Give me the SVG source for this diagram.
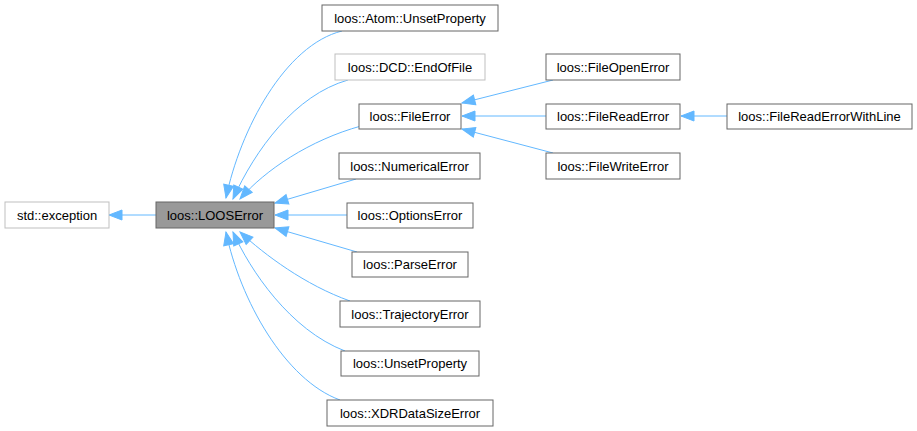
<svg xmlns="http://www.w3.org/2000/svg" width="917" height="431" viewBox="0 0 917 431">
<style>
.n rect{fill:#ffffff;stroke:#666666;stroke-width:1}
.n.g rect{stroke:#bfbfbf}
.n.h rect{fill:#999999;stroke:#666666}
.n text{font-family:"Liberation Sans",Arial,sans-serif;font-size:13px;fill:#000000;text-anchor:middle}
.e path{fill:none;stroke:#63b8ff;stroke-width:1;marker-end:url(#a)}
</style>
<defs>
<marker id="a" markerUnits="userSpaceOnUse" markerWidth="16" markerHeight="12" viewBox="-14 -6 16 12" refX="0" refY="0" orient="auto">
<path d="M-13,-5 L0,0 L-13,5 z" fill="#63b8ff" stroke="#63b8ff" stroke-width="1"/>
</marker>
</defs>
<rect width="917" height="431" fill="#ffffff"/>
<g id="connectors" class="e">
<path d="M156,215 L109,215"/>
<path d="M342,31 C285,45 240,130 226,198"/>
<path d="M348,80 C295,95 255,150 233,199"/>
<path d="M361,126 C310,140 265,170 240,199"/>
<path d="M356,179 L275,203"/>
<path d="M347,215 L275,215"/>
<path d="M357,252 L275,228"/>
<path d="M350,301 C305,285 265,255 240,232"/>
<path d="M345,351 C290,330 250,270 233,232"/>
<path d="M340,400 C285,380 240,300 226,232"/>
<path d="M553,80 L462,103"/>
<path d="M546,116 L462,116"/>
<path d="M553,153 L462,129"/>
<path d="M727,116 L681,116"/>
</g>
<g id="std_exception" class="n g"><rect x="5" y="202" width="104" height="26"/><text x="57" y="220">std::exception</text></g>
<g id="LOOSError" class="n h"><rect x="156" y="202" width="118" height="26"/><text x="215" y="220">loos::LOOSError</text></g>
<g id="Atom_UnsetProperty" class="n"><rect x="322" y="5" width="176" height="26"/><text x="410" y="23">loos::Atom::UnsetProperty</text></g>
<g id="DCD_EndOfFile" class="n g"><rect x="335" y="54" width="150" height="26"/><text x="410" y="72">loos::DCD::EndOfFile</text></g>
<g id="FileError" class="n"><rect x="359" y="104" width="102" height="25"/><text x="410" y="121">loos::FileError</text></g>
<g id="NumericalError" class="n"><rect x="339" y="153" width="141" height="26"/><text x="409.5" y="171">loos::NumericalError</text></g>
<g id="OptionsError" class="n"><rect x="347" y="203" width="126" height="25"/><text x="410" y="220">loos::OptionsError</text></g>
<g id="ParseError" class="n"><rect x="352" y="252" width="116" height="25"/><text x="410" y="269">loos::ParseError</text></g>
<g id="TrajectoryError" class="n"><rect x="340" y="301" width="140" height="26"/><text x="410" y="319">loos::TrajectoryError</text></g>
<g id="UnsetProperty" class="n"><rect x="341" y="351" width="138" height="25"/><text x="410" y="368">loos::UnsetProperty</text></g>
<g id="XDRDataSizeError" class="n"><rect x="327" y="400" width="166" height="26"/><text x="410" y="418">loos::XDRDataSizeError</text></g>
<g id="FileOpenError" class="n"><rect x="546" y="54" width="134" height="26"/><text x="613" y="72">loos::FileOpenError</text></g>
<g id="FileReadError" class="n"><rect x="546" y="104" width="134" height="25"/><text x="613" y="121">loos::FileReadError</text></g>
<g id="FileWriteError" class="n"><rect x="546" y="153" width="134" height="26"/><text x="613" y="171">loos::FileWriteError</text></g>
<g id="FileReadErrorWithLine" class="n"><rect x="727" y="104" width="185" height="25"/><text x="819.5" y="121">loos::FileReadErrorWithLine</text></g>
</svg>
